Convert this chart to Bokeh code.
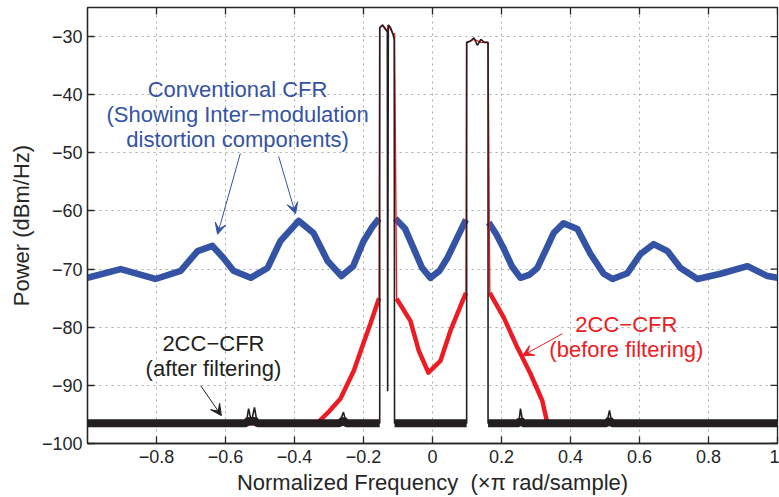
import numpy as np
from bokeh.plotting import figure
from bokeh.models import FixedTicker, Range1d, Label, Arrow, VeeHead
from bokeh.embed import file_html
from bokeh.resources import INLINE

NaN = float("nan")

# ---------------- data ----------------
x_ticks = [-0.8, -0.6, -0.4, -0.2, 0, 0.2, 0.4, 0.6, 0.8, 1]
x_tick_labels = ["−0.8", "−0.6", "−0.4", "−0.2", "0", "0.2", "0.4", "0.6", "0.8", "1"]
y_ticks = [-100, -90, -80, -70, -60, -50, -40, -30]
y_tick_labels = ["−100", "−90", "−80", "−70", "−60", "−50", "−40", "−30"]

# Conventional CFR (blue)
conv_freq = [-1.0, -0.904, -0.803, -0.730, -0.681, -0.638, -0.606, -0.577, -0.527,
             -0.478, -0.441, -0.388, -0.345, -0.304, -0.264, -0.230, -0.200, -0.175, -0.155,
             NaN,
             -0.108, -0.080, -0.055, -0.030, -0.006, 0.020, 0.043, 0.070, 0.097,
             NaN,
             0.163, 0.185, 0.206, 0.230, 0.255, 0.280, 0.304, 0.330, 0.351, 0.380,
             0.420, 0.458, 0.496, 0.522, 0.565, 0.603, 0.641, 0.681, 0.719, 0.768,
             0.835, 0.913, 0.971, 1.0]
conv_power = [-71.5, -70.0, -71.7, -70.3, -66.9, -66.0, -68.1, -70.3, -71.5,
              -69.8, -65.2, -61.7, -63.8, -68.6, -71.2, -69.5, -65.2, -62.8, -61.3,
              NaN,
              -61.3, -63.0, -66.4, -69.8, -71.5, -70.3, -68.1, -64.8, -61.5,
              NaN,
              -62.0, -64.0, -66.4, -69.5, -71.5, -71.0, -69.8, -66.5, -63.8, -62.1,
              -63.1, -67.4, -70.8, -71.7, -70.7, -67.4, -65.7, -66.9, -69.8, -71.7,
              -70.8, -69.5, -71.2, -71.5]

# 2CC-CFR before filtering (red)
before_freq = [-1.0, -0.334, -0.300, -0.267, -0.228, -0.200, -0.180, -0.155,
               -0.153, -0.145, -0.131, -0.128, -0.115, -0.110,
               -0.104, -0.064, -0.040, -0.012, 0.023, 0.052, 0.087, 0.097,
               0.099, 0.120, 0.140, 0.161,
               0.166, 0.207, 0.246, 0.284, 0.318, 0.333, 1.0]
before_power = [-96.5, -96.5, -94.5, -92.3, -87.5, -82.7, -79.4, -75.0,
                -28.5, -28.0, -29.0, -28.0, -29.5, -29.5,
                -75.1, -78.9, -84.0, -87.8, -85.8, -80.6, -75.5, -74.1,
                -31.0, -30.5, -31.0, -31.0,
                -74.1, -78.4, -83.5, -88.0, -92.6, -96.5, -96.5]

# 2CC-CFR after filtering (black)
after_freq = [-1.0, -0.540, -0.533, -0.525, -0.516, -0.508, -0.270, -0.258, -0.250,
              -0.153, -0.153, -0.145, -0.138, -0.131, -0.130, -0.128, -0.122, -0.115,
              -0.111, -0.110, 0.099, 0.099, 0.110, 0.120, 0.130, 0.140, 0.150, 0.161,
              0.161, 0.250, 0.255, 0.262, 0.505, 0.513, 0.520, 1.0]
after_power = [-96.5, -96.5, -94.0, -96.3, -93.8, -96.5, -96.5, -94.6, -96.5,
               -96.5, -28.5, -28.0, -28.6, -29.2, -91.0, -28.0, -28.4, -29.5,
               -30.5, -96.5, -96.5, -31.0, -30.8, -30.2, -31.5, -30.5, -31.0, -31.0,
               -96.5, -96.5, -94.0, -96.5, -96.5, -94.3, -96.5, -96.5]

# ---------------- styles ----------------
BLUE = "#3453a4"
RED = "#ed1c24"
BLACK = "#231f20"
AX = "#262626"
FONT = "Liberation Sans"

p = figure(width=779, height=497, output_backend="svg", toolbar_location=None,
           x_range=Range1d(-1, 1), y_range=Range1d(-100, -25),
           min_border_left=87, min_border_right=2, min_border_top=7, min_border_bottom=0,
           x_axis_label="Normalized Frequency \u00a0(×π rad/sample)",
           y_axis_label="Power (dBm/Hz)")
p.outline_line_color = AX
p.outline_line_width = 1.3
p.background_fill_color = "white"
p.border_fill_color = "white"

for ax, ticks, labels in ((p.xaxis[0], x_ticks, x_tick_labels), (p.yaxis[0], y_ticks, y_tick_labels)):
    ax.ticker = FixedTicker(ticks=ticks)
    ax.major_label_overrides = {t: l for t, l in zip(ticks, labels)}
    ax.major_tick_in = 7
    ax.major_tick_out = 0
    ax.minor_tick_line_color = None
    ax.axis_line_color = AX
    ax.axis_line_width = 1.3
    ax.major_tick_line_color = AX
    ax.major_tick_line_width = 1.3
    ax.major_label_text_font = FONT
    ax.major_label_text_font_size = "18px"
    ax.major_label_text_color = AX
    ax.axis_label_text_font = FONT
    ax.axis_label_text_font_size = "22px"
    ax.axis_label_text_font_style = "normal"
    ax.axis_label_text_color = AX

p.xaxis.major_label_standoff = 6
p.xaxis.axis_label_standoff = 4
p.yaxis.major_label_standoff = 5
p.yaxis.axis_label_standoff = 5

# inner tick marks on top and right frame edges
p.ray(x=x_ticks, y=[-25] * len(x_ticks), length=7, angle=-np.pi / 2, length_units="screen",
      line_color=AX, line_width=1.3)
p.ray(x=[1] * len(y_ticks), y=y_ticks, length=7, angle=np.pi, length_units="screen",
      line_color=AX, line_width=1.3)

for g in (p.xgrid[0], p.ygrid[0]):
    g.grid_line_color = "#a8a8a8"
    g.grid_line_dash = "2 4"
    g.grid_line_width = 1
p.xgrid.ticker = FixedTicker(ticks=x_ticks)
p.ygrid.ticker = FixedTicker(ticks=y_ticks)

# ---------------- curves ----------------
cf = np.array(conv_freq, dtype=float)
cp = np.array(conv_power, dtype=float)
p.line(cf, cp, line_color=BLUE, line_width=6.5, line_join="round")

bf = np.array(before_freq, dtype=float)
bp = np.array(before_power, dtype=float)
p.line(bf, bp, line_color=RED, line_width=1.4)
p.line(bf, np.where(bp < -60, bp, np.nan), line_color=RED, line_width=4.5, line_join="round")

af = np.array(after_freq, dtype=float)
ap = np.array(after_power, dtype=float)
p.line(af, np.where(ap < -85, np.minimum(ap, -96.0), np.nan), line_color=BLACK, line_width=8)
p.line(af, ap, line_color=BLACK, line_width=1.6)

# ---------------- annotations ----------------
def add_text(x, y, txt, color):
    p.add_layout(Label(x=x, y=y, text=txt, text_align="center", text_baseline="middle",
                       text_font=FONT, text_font_size="22px", text_color=color))

add_text(-0.565, -39.1, "Conventional CFR", BLUE)
add_text(-0.565, -43.4, "(Showing Inter−modulation", BLUE)
add_text(-0.565, -47.7, "distortion components)", BLUE)
add_text(-0.635, -82.85, "2CC−CFR", BLACK)
add_text(-0.635, -87.1, "(after filtering)", BLACK)
add_text(0.562, -79.6, "2CC−CFR", RED)
add_text(0.562, -83.9, "(before filtering)", RED)

def add_arrow(x0, y0, x1, y1, color):
    p.add_layout(Arrow(end=VeeHead(size=11, fill_color=color, line_color=color),
                       x_start=x0, y_start=y0, x_end=x1, y_end=y1,
                       line_color=color, line_width=1))

add_arrow(-0.557, -50.1, -0.623, -64.0, BLUE)
add_arrow(-0.446, -50.6, -0.397, -60.5, BLUE)
add_arrow(-0.672, -90.05, -0.612, -95.2, BLACK)
add_arrow(0.377, -81.1, 0.261, -84.9, RED)

open("out.html", "w").write(file_html(p, INLINE))
